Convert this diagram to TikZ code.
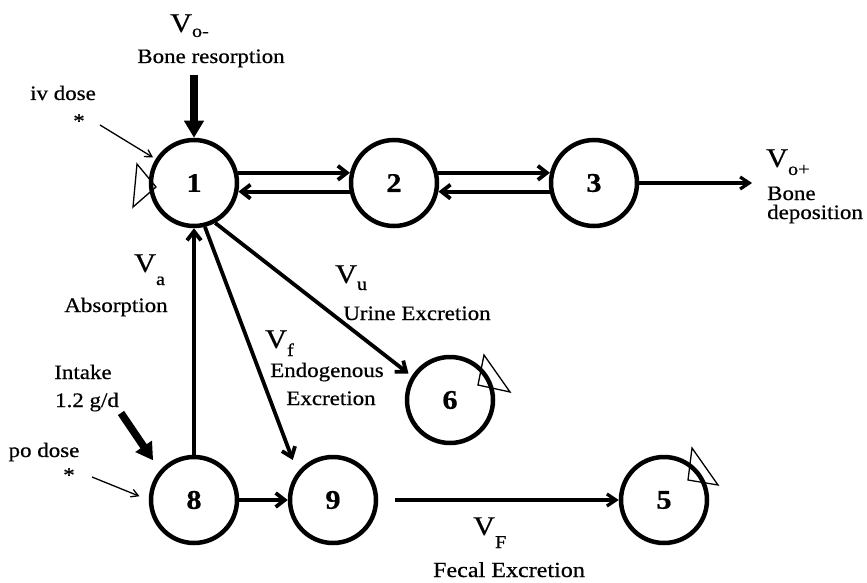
\documentclass[tikz,border=0pt]{standalone}
\usepackage{fontspec}
\setmainfont{Liberation Serif}[FakeStretch=1.12, FakeBold=0.6]
\usetikzlibrary{arrows.meta}

% rate label: large V with a lowered subscript (#1 = drop, #2 = subscript)
\newcommand{\ratelab}[2]{{\fontsize{27}{27}\selectfont V}\raisebox{-#1pt}{\fontsize{18}{18}\selectfont #2}}

\begin{document}
\begin{tikzpicture}[x=1pt, y=-1pt,
  comp/.style={circle, draw, line width=4.5pt, minimum size=86pt, inner sep=0pt,
    fill=white, font=\fontsize{27}{27}\selectfont\bfseries},
  flow/.style={line width=3.8pt, -{Straight Barb[length=9pt,width=14pt]}},
  outflow/.style={line width=3.2pt, -{Straight Barb[length=9pt,width=12pt]}},
  thinflow/.style={line width=1.3pt, -{Straight Barb[length=7pt,width=8pt]}},
  heavy/.style={line width=7.5pt, -{Triangle[length=17pt,width=19pt]}},
  marker/.style={line width=1.3pt, line join=miter},
  lab/.style={font=\fontsize{20.5}{20.5}\selectfont, inner sep=0pt},
  vlab/.style={inner sep=0pt, anchor=base west}]

\useasboundingbox (0,0) rectangle (867,583);

% compartments
\node[comp] (c1) at (194,183) {1};
\node[comp] (c2) at (394,183) {2};
\node[comp] (c3) at (594,183) {3};
\node[comp] (c6) at (450,400) {6};
\node[comp] (c8) at (194,500) {8};
\node[comp] (c9) at (333,500) {9};
\node[comp] (c5) at (664,500) {5};

% sampling markers
\draw[marker] (137,164) -- (133,207) -- (156,187) -- cycle;
\draw[marker] (484,355) -- (478,385) -- (510,392) -- cycle;
\draw[marker] (692,448) -- (688,480) -- (718,485) -- cycle;

% exchange between 1, 2 and 3
\draw[flow] (c1.13) -- (c2.167);
\draw[flow] (c2.191) -- (c1.-11);
\draw[flow] (c2.13) -- (c3.167);
\draw[flow] (c3.191) -- (c2.-11);

% bone deposition
\coordinate (dep) at (752,183);
\draw[outflow] (c3.east) -- (dep);

% bone resorption
\coordinate (res) at (194,75);
\draw[heavy] (res) -- (c1.north);

% iv dose
\coordinate (iv) at (100,125);
\draw[thinflow, shorten >=3pt] (iv) -- (c1.148);

% absorption, excretion routes
\draw[flow] (c8) -- (c1);
\draw[flow, shorten >=4pt] (c1.-62) -- (c6.148);
\draw[flow, shorten >=13pt] (c1.-76) -- (c9.142);
\draw[flow] (c8) -- (c9);
\draw[outflow, shorten <=17pt] (c9.east) -- (c5.west);

% intake and po dose
\coordinate (intk) at (121,413);
\draw[heavy, shorten >=12pt] (intk) -- (c8.139);
\coordinate (po) at (92,477);
\draw[thinflow, shorten >=10pt] (po) -- (c8.west);

% labels
\node[vlab] (lvo) at (170,32) {\ratelab{5}{o-}};
\node[lab, anchor=base] (lres) at (211,63) {Bone resorption};
\node[lab, anchor=base] (liv) at (63,100) {iv dose};
\node[lab] (livs) at (79,121) {*};

\node[vlab] (lvp) at (766,167) {\ratelab{8}{o+}};
\node[lab, anchor=base west] (lbone) at (767,200) {Bone};
\node[lab, anchor=base west] (ldep) at (767,219) {deposition};

\node[vlab] (lva) at (134,272) {\ratelab{13}{a}};
\node[lab, anchor=base] (labs) at (116,312) {Absorption};

\node[vlab] (lvu) at (335,283) {\ratelab{7}{u}};
\node[lab, anchor=base] (lur) at (417,320) {Urine Excretion};

\node[vlab] (lvf) at (265,348) {\ratelab{8}{f}};
\node[lab, anchor=base] (lend) at (327,377) {Endogenous};
\node[lab, anchor=base] (lexc) at (331,405) {Excretion};

\node[lab, anchor=base] (lint) at (83,379) {Intake};
\node[lab, anchor=base] (lamt) at (87,407) {1.2 g/d};
\node[lab, anchor=base] (lpo) at (44,457) {po dose};
\node[lab] (lpos) at (69,475) {*};

\node[vlab] (lvF) at (473,535) {\ratelab{13}{F}};
\node[lab, anchor=base, font=\fontsize{21.5}{21.5}\selectfont] (lfec) at (509,577) {Fecal Excretion};

\end{tikzpicture}
\end{document}
